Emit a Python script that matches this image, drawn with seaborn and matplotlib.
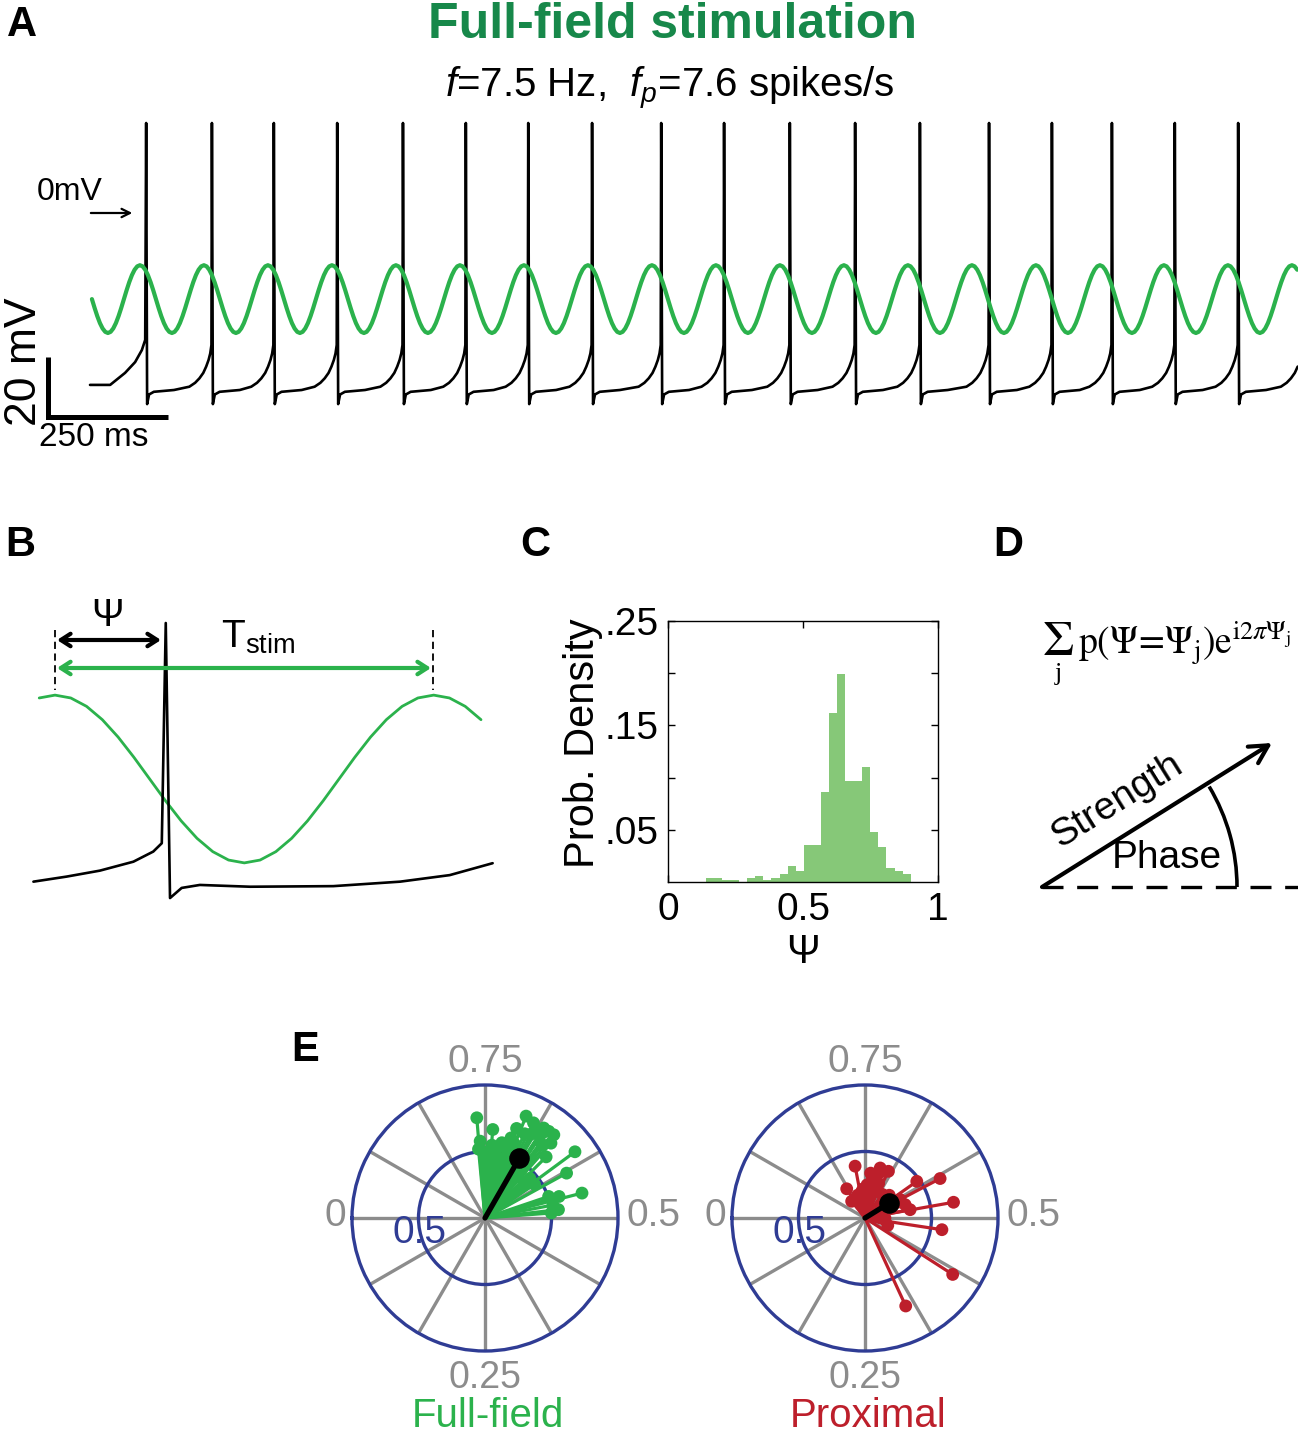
import numpy as np
import pandas as pd
import matplotlib
matplotlib.use("Agg")
import matplotlib.pyplot as plt
import seaborn as sns
from matplotlib.patches import Arc

# === DATA ===
# Panel A: spike times (ms) and sinusoidal stimulus
spike_times = [117, 254, 383, 515, 652, 783, 913, 1046, 1190, 1321,
               1458, 1594, 1729, 1873, 2004, 2129, 2260, 2392]
stim_freq = 7.5          # Hz
stim_first_peak = 104    # ms
stim_cycle = [1.0, 0.966, 0.866, 0.707, 0.5, 0.259, 0.0, -0.259, -0.5, -0.707,
              -0.866, -0.966, -1.0, -0.966, -0.866, -0.707, -0.5, -0.259, 0.0,
              0.259, 0.5, 0.707, 0.866, 0.966]
trace_end = 2517         # ms
stim_center_a, stim_amp_a = -28.7, 11.3

# interspike waveform: (ms after spike, mV) and (ms before next spike, mV)
after_spike = [(0, 30.0), (2, -63.7), (6, -60.5), (16, -59.6), (58, -59.0)]
before_spike = [(47, -57.9), (35, -56.6), (26, -55.1), (18, -53.3), (12, -51.2),
                (7, -49.0), (3.5, -46.8), (1, -44.0)]
first_t = [0, 42, 73, 94, 108, 115]
first_v = [-57.3, -57.3, -53.3, -49.7, -45.7, -42.3]

# Panel B: one stimulus cycle
b_vm_t = [-7.6, 4.1, 15.8, 27.6, 34.6, 37.6, 39.0, 40.5, 44.6, 51.0, 68.7, 98.0, 121.5, 139.0, 154.1]
b_vm_v = [-56.8, -55.1, -53.1, -50.1, -46.7, -43.9, 30.0, -62.3, -58.9, -57.9, -58.5, -58.3, -56.8, -54.6, -50.6]
b_stim_start, b_stim_end = -7.7, 151.0
stim_center_b, stim_amp_b = -22.35, 28.15

# Panel C: phase histogram (25 bins, 0.14 .. 0.90)
bin_edges = list(np.linspace(0.14, 0.90, 26))
bin_prob = [0.004, 0.004, 0.0016, 0.0016, 0.0, 0.004, 0.0055, 0.0016, 0.004, 0.008,
            0.015, 0.0106, 0.035, 0.035, 0.086, 0.162, 0.199, 0.097, 0.097, 0.110,
            0.048, 0.034, 0.013, 0.0106, 0.008]

# Panel E: phase / strength of each cell, and the mean vector
ff_phase = [0.763, 0.760, 0.736, 0.700, 0.696, 0.689, 0.675, 0.658, 0.649, 0.640,
            0.658, 0.601, 0.580, 0.608, 0.540, 0.552, 0.518, 0.765, 0.755, 0.745,
            0.735, 0.725, 0.715, 0.705, 0.690, 0.680, 0.670, 0.665, 0.655, 0.645,
            0.635, 0.625, 0.615, 0.530, 0.545, 0.512, 0.750, 0.740, 0.730, 0.720,
            0.710, 0.685, 0.662, 0.620, 0.595]
ff_strength = [0.756, 0.579, 0.668, 0.633, 0.714, 0.826, 0.803, 0.808, 0.809, 0.812,
               0.763, 0.840, 0.700, 0.420, 0.753, 0.505, 0.556, 0.52, 0.50, 0.48,
               0.55, 0.50, 0.58, 0.55, 0.60, 0.70, 0.72, 0.75, 0.78, 0.70,
               0.75, 0.65, 0.45, 0.52, 0.58, 0.50, 0.45, 0.42, 0.44, 0.40,
               0.46, 0.50, 0.55, 0.40, 0.45]
ff_mean = (0.667, 0.52)

px_phase = [0.780, 0.839, 0.857, 0.703, 0.676, 0.598, 0.577, 0.528, 0.476, 0.409,
            0.319, 0.529, 0.551, 0.577, 0.720, 0.740, 0.760, 0.800, 0.690, 0.650,
            0.620, 0.560, 0.500, 0.450, 0.700, 0.730, 0.820, 0.770, 0.710, 0.600]
px_strength = [0.397, 0.259, 0.161, 0.393, 0.393, 0.477, 0.638, 0.676, 0.585, 0.784,
               0.729, 0.345, 0.318, 0.298, 0.30, 0.25, 0.22, 0.18, 0.28, 0.22,
               0.25, 0.20, 0.15, 0.18, 0.36, 0.34, 0.15, 0.20, 0.22, 0.15]
px_mean = (0.588, 0.216)

# === STYLE ===
sns.set_style("white")
plt.rcParams["font.family"] = ["Liberation Sans", "DejaVu Sans"]
plt.rcParams["mathtext.fontset"] = "custom"
plt.rcParams["mathtext.rm"] = "Liberation Sans"
plt.rcParams["mathtext.it"] = "Liberation Sans:italic"
plt.rcParams["text.color"] = "black"
plt.rcParams["axes.labelcolor"] = "black"

green = "#2bb24c"
title_green = "#17884a"
hist_green = "#86c878"
red = "#bd1f2b"
navy = "#2f3c94"
gray = "#8c8c8c"

W, H = 1298, 1441
fig = plt.figure(figsize=(W / 100, H / 100), dpi=100)


def rect(x0, y0, x1, y1):
    return [x0 / W, 1 - y1 / H, (x1 - x0) / W, (y1 - y0) / H]


def tile_stim(t0, t1, peak, center, amp):
    period = 1000.0 / stim_freq
    n = len(stim_cycle)
    k0 = int(np.floor((t0 - peak) / period * n)) - 1
    k1 = int(np.ceil((t1 - peak) / period * n)) + 1
    ks = np.arange(k0, k1 + 1)
    t = peak + ks * period / n
    v = center + amp * np.array(stim_cycle)[ks % n]
    m = (t >= t0) & (t <= t1)
    return t[m], v[m]


# === PANEL A ===
axA = fig.add_axes(rect(0, 100, W, 460))
axA.set_xlim(-90 / 0.48, (W - 90) / 0.48)
axA.set_ylim((213 - 460) / 3, (213 - 100) / 3)
axA.axis("off")

vm_t, vm_v = list(first_t), list(first_v)
next_spikes = spike_times[1:] + [spike_times[-1] + 136]
for ts, tn in zip(spike_times, next_spikes):
    for dt, mv in after_spike:
        vm_t.append(ts + dt)
        vm_v.append(mv)
    for dt, mv in before_spike:
        vm_t.append(tn - dt)
        vm_v.append(mv)
vm_t, vm_v = np.array(vm_t), np.array(vm_v)
keep = vm_t <= trace_end
sns.lineplot(x=vm_t[keep], y=vm_v[keep], sort=False, estimator=None,
             color="black", lw=1.9, ax=axA)
st, sv = tile_stim(0, trace_end, stim_first_peak, stim_center_a, stim_amp_a)
sns.lineplot(x=st, y=sv, sort=False, estimator=None, color=green, lw=3.0, ax=axA)

# scale bars
axA.plot([-87.5, -87.5, -87.5 + 250], [-68 + 20, -68, -68], color="black",
         lw=3.6, solid_joinstyle="miter", solid_capstyle="butt")
axA.annotate("", xy=(94, 0), xytext=(-4, 0),
             arrowprops=dict(arrowstyle="->,head_length=0.6,head_width=0.3", lw=1.6, color="black"))

# === PANEL B ===
axB = fig.add_axes(rect(20, 590, 500, 910))
axB.set_xlim((20 - 55) / 2.84, (500 - 55) / 2.84)
axB.set_ylim(30 - (910 - 623) / 2.98, 30 - (590 - 623) / 2.98)
axB.axis("off")
bt, bv = tile_stim(b_stim_start, b_stim_end, 0.0, stim_center_b, stim_amp_b)
sns.lineplot(x=bt, y=bv, sort=False, estimator=None, color=green, lw=2.0, ax=axB)
sns.lineplot(x=b_vm_t, y=b_vm_v, sort=False, estimator=None, color="black", lw=1.9, ax=axB)

# === PANEL C ===
axC = fig.add_axes(rect(668, 621, 938, 882))
centers = [(a + b) / 2 for a, b in zip(bin_edges[:-1], bin_edges[1:])]
hist_df = pd.DataFrame({"psi": centers, "prob": bin_prob})
sns.histplot(data=hist_df, x="psi", weights="prob", bins=bin_edges, stat="count",
             color=hist_green, alpha=1.0, linewidth=0, ax=axC)
axC.set_xlim(0, 1)
axC.set_ylim(0, 0.25)
axC.set_xticks([0, 0.5, 1])
axC.set_xticklabels(["0", "0.5", "1"])
axC.set_yticks([0.05, 0.1, 0.15, 0.2, 0.25])
axC.set_yticklabels([".05", "", ".15", "", ".25"])
axC.tick_params(direction="in", top=True, right=True, bottom=True, left=True,
                length=5, width=1, labelsize=28, colors="black", pad=7)
for sp in axC.spines.values():
    sp.set_color("black")
    sp.set_linewidth(1.0)
axC.set_xlabel("Ψ", fontsize=29, labelpad=4)
axC.set_ylabel("Prob. Density", fontsize=30, labelpad=2)
axC.yaxis.set_label_coords(-0.242, 0.53)

# === PANEL E ===
for rc, ph, stg, mean, col in [
        (rect(352, 1085, 618, 1351), ff_phase, ff_strength, ff_mean, green),
        (rect(732, 1085, 998, 1351), px_phase, px_strength, px_mean, red)]:
    ax = fig.add_axes(rc, projection="polar")
    ax.set_theta_zero_location("W")
    ax.set_theta_direction(1)
    ax.set_xticks(np.deg2rad(np.arange(0, 360, 30)))
    ax.set_xticklabels([])
    ax.set_yticks([0.5])
    ax.set_yticklabels([])
    ax.tick_params(length=0)
    ax.xaxis.grid(True, color=gray, lw=2.4)
    ax.yaxis.grid(True, color=navy, lw=2.4)
    ax.spines["polar"].set_edgecolor(navy)
    ax.spines["polar"].set_linewidth(2.4)
    theta = 2 * np.pi * np.array(ph)
    ax.vlines(theta, 0, stg, color=col, lw=2.3, zorder=3)
    sns.scatterplot(x=theta, y=stg, color=col, s=85, edgecolor="none", zorder=4, ax=ax)
    tm = 2 * np.pi * mean[0]
    ax.plot([tm, tm], [0, mean[1]], color="black", lw=3.8, zorder=5, solid_capstyle="round")
    ax.scatter([tm], [mean[1]], s=190, color="black", zorder=6)
    ax.set_ylim(0, 1)
    ax.set_xlabel("")
    ax.set_ylabel("")

# === OVERLAY: letters, titles, annotations ===
ov = fig.add_axes([0, 0, 1, 1])
ov.set_xlim(0, W)
ov.set_ylim(H, 0)
ov.axis("off")
ov.patch.set_alpha(0)

for lab, x, y in [("A", 22, 25), ("B", 20, 545), ("C", 535, 545), ("D", 1008, 545), ("E", 305, 1050)]:
    ov.text(x, y, lab, fontsize=30, fontweight="bold", ha="center", va="center")

ov.text(672, 25, "Full-field stimulation", fontsize=36, fontweight="bold",
        color=title_green, ha="center", va="center")
ov.text(670, 88, r"$\mathit{f}$=7.5 Hz,  $\mathit{f}_{\mathit{p}}$=7.6 spikes/s",
        fontsize=29, ha="center", va="center")
ov.text(70, 192, "0mV", fontsize=23, ha="center", va="center")
ov.text(24, 362, "20 mV", fontsize=32, rotation=90, ha="center", va="center")
ov.text(94, 437, "250 ms", fontsize=24, ha="center", va="center")

# panel B annotations
for x in (55, 433):
    ov.plot([x, x], [630, 690], color="black", lw=1.3, ls=(0, (4, 2.5)))
ov.annotate("", xy=(161, 640), xytext=(57, 640),
            arrowprops=dict(arrowstyle="<->,head_length=0.7,head_width=0.45", lw=3, color="black",
                            shrinkA=0, shrinkB=0))
ov.annotate("", xy=(431, 668), xytext=(57, 668),
            arrowprops=dict(arrowstyle="<->,head_length=0.7,head_width=0.45", lw=3, color=green,
                            shrinkA=0, shrinkB=0))
ov.text(108, 616, "Ψ", fontsize=28, ha="center", va="center")
ov.text(258, 637, r"T$_{\mathrm{stim}}$", fontsize=28, ha="center", va="center")

# panel D
ov.text(1058, 642, r"$\Sigma$", fontsize=36, ha="center", va="center", math_fontfamily="stix")
ov.text(1058, 674, "j", fontsize=19, ha="center", va="center", family="Liberation Serif")
ov.text(1078, 655, r"$\mathrm{p}(\Psi\!=\!\Psi_{\mathrm{j}})\mathrm{e}^{\mathrm{i}2\pi\Psi_{\mathrm{j}}}$",
        fontsize=27, ha="left", va="baseline", math_fontfamily="stix")
ov.annotate("", xy=(1272, 743), xytext=(1042, 887),
            arrowprops=dict(arrowstyle="->,head_length=1.3,head_width=0.7", lw=3, color="black",
                            shrinkA=0, shrinkB=0))
ov.plot([1042, W], [887, 887], color="black", lw=2.4, ls=(0, (6.3, 4.1)))
ov.add_patch(Arc((1042, 887), 390, 390, theta1=-31, theta2=0, lw=2.6, color="black"))
ov.text(1117, 801, "Strength", fontsize=28, rotation=32, rotation_mode="anchor",
        ha="center", va="center")
ov.text(1167, 858, "Phase", fontsize=28, ha="center", va="center")

# panel E labels
for cx, name, col in [(485, "Full-field", green), (865, "Proximal", red)]:
    ov.text(cx, 1072, "0.75", fontsize=28, color=gray, ha="center", va="baseline")
    ov.text(cx, 1388, "0.25", fontsize=27, color=gray, ha="center", va="baseline")
    ov.text(cx - 150, 1216, "0", fontsize=28, color=gray, ha="center", va="center")
    ov.text(cx + 168, 1216, "0.5", fontsize=28, color=gray, ha="center", va="center")
    ov.text(cx - 65, 1233, "0.5", fontsize=28, color=navy, ha="center", va="center")
    ov.text(cx + 3, 1427, name, fontsize=29, color=col, ha="center", va="baseline")

fig.savefig("out.png", dpi=100, facecolor="white")
